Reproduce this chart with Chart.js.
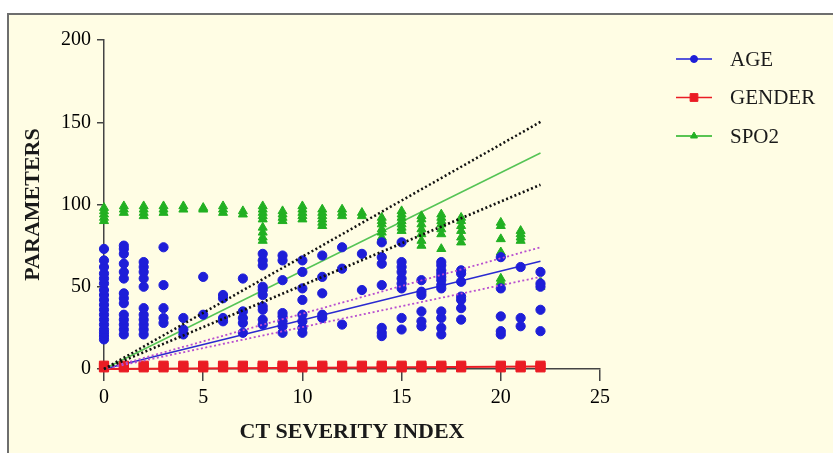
<!DOCTYPE html>
<html>
<head>
<meta charset="utf-8">
<script src="https://cdn.jsdelivr.net/npm/chart.js@4/dist/chart.umd.min.js"></script>
<style>
  html, body { margin: 0; padding: 0; background: #fff; }
  canvas { display: block; }
</style>
</head>
<body>
<canvas id="chart" width="833" height="453"></canvas>
<script>
// CT severity index, one slot per value 0..22
const ctIndex = [0,1,2,3,4,5,6,7,8,9,10,11,12,13,14,15,16,17,18,19,20,21,22];

// AGE values at each CT index
const ageAt = [
  [18,20,22,24,27,30,33,36,39,42,45,48,52,55,58,62,66,73],
  [21,24,27,30,33,40,43,46,55,59,64,70,73,75],
  [21,24,27,30,33,37,50,55,59,62,65],
  [28,31,37,51,74],
  [21,24,31],
  [33,56],
  [29,31,43,45],
  [22,28,31,35,55],
  [27,30,36,38,45,48,50,63,66,70],
  [22,26,29,32,34,54,66,69],
  [22,25,29,33,42,49,59,66],
  [31,33,46,56,69],
  [27,61,74],
  [48,70],
  [20,22,25,51,64,68,77],
  [24,31,49,52,55,59,62,65,77],
  [26,29,35,45,47,54],
  [21,25,31,35,49,51,54,56,58,60,63,65],
  [30,37,42,44,53,58,60],
  [],
  [21,23,32,49,68],
  [26,31,62],
  [23,36,50,52,59]
];

// GENDER (1 / 2) at each CT index
const genderAt = [
  [1,2],[1,2],[1,2],[1,2],[1,2],[1,2],[1,2],[1,2],[1,2],[1,2],[1,2],[1,2],
  [1,2],[1,2],[1,2],[1,2],[1,2],[1,2],[1,2],[],[1,2],[1,2],[1,2]
];

// SPO2 values at each CT index
const spo2At = [
  [90,92,94,96,98],
  [95,97,99],
  [93,95,97,99],
  [95,97,99],
  [97,99],
  [97,98],
  [95,97,99],
  [94,96],
  [78,80,83,86,91,93,95,97,99],
  [90,92,94,96],
  [91,93,95,97,99],
  [87,89,91,93,95,97],
  [93,95,97],
  [93,95],
  [78,80,83,85,88,90,92],
  [84,86,88,90,92,94,96],
  [75,78,82,85,88,91,93],
  [73,82,85,88,90,92,94],
  [77,80,84,87,90,92],
  [],
  [53,55,71,79,87,89],
  [78,80,82,84],
  [50,53]
];

// fitted lines (start / end)
const fitX = [0, 22];
const ageFit = [0, 65.5];
const ageFitLo = [0, 56];
const ageFitHi = [0, 74];
const genderFit = [0, 1.5];
const spo2Fit = [0, 131.3];
const spo2FitLo = [0, 112];
const spo2FitHi = [0, 150.2];

const xTicks = [0, 5, 10, 15, 20, 25];
const yTicks = [0, 50, 100, 150, 200];

const BLUE = '#1e1ed8';
const RED = '#ea1c24';
const GREEN = '#22b022';
const SERIF = '"Liberation Serif", "DejaVu Serif", serif';

function toPoints(groups) {
  const pts = [];
  groups.forEach((vals, i) => vals.forEach(v => pts.push({ x: ctIndex[i], y: v })));
  return pts;
}

function fitLine(ys) {
  return fitX.map((x, i) => ({ x: x, y: ys[i] }));
}

function lineSet(ys, color, width, dash) {
  return {
    data: fitLine(ys),
    showLine: true,
    borderColor: color,
    borderWidth: width,
    borderDash: dash || [],
    pointRadius: 0,
    pointHoverRadius: 0,
    fill: false,
    clip: false
  };
}

function pointSet(label, groups, color, style, radius) {
  return {
    label: label,
    data: toPoints(groups),
    showLine: false,
    pointStyle: style,
    pointRadius: radius,
    pointBackgroundColor: color,
    pointBorderColor: color,
    pointBorderWidth: 1,
    clip: false
  };
}

const legendItems = [
  { text: 'AGE', color: BLUE, style: 'circle', radius: 3.5 },
  { text: 'GENDER', color: RED, style: 'rect', radius: 5.5 },
  { text: 'SPO2', color: GREEN, style: 'triangle', radius: 4 }
];

const framePlugin = {
  id: 'frame',
  beforeDraw(chart) {
    const ctx = chart.ctx;
    ctx.save();
    ctx.fillStyle = '#ffffff';
    ctx.fillRect(0, 0, chart.width, chart.height);
    ctx.fillStyle = '#fffde4';
    ctx.fillRect(8, 14, chart.width, chart.height);
    ctx.strokeStyle = '#6e6e6e';
    ctx.lineWidth = 2;
    ctx.strokeRect(8, 14, chart.width + 10, chart.height + 10);
    ctx.restore();
  }
};

const legendPlugin = {
  id: 'sideLegend',
  afterDraw(chart) {
    const ctx = chart.ctx;
    ctx.save();
    legendItems.forEach((it, i) => {
      const y = 59 + i * 38.5;
      ctx.strokeStyle = it.color;
      ctx.lineWidth = 1.5;
      ctx.beginPath();
      ctx.moveTo(676, y);
      ctx.lineTo(712, y);
      ctx.stroke();
      ctx.fillStyle = it.color;
      ctx.strokeStyle = it.color;
      ctx.lineWidth = 1;
      Chart.helpers.drawPoint(ctx, { pointStyle: it.style, radius: it.radius, borderWidth: 1 }, 694, y);
      ctx.fillStyle = '#1a1a1a';
      ctx.font = '21px ' + SERIF;
      ctx.textBaseline = 'middle';
      ctx.textAlign = 'left';
      ctx.fillText(it.text, 730, y + 1);
    });
    ctx.restore();
  }
};

new Chart(document.getElementById('chart'), {
  type: 'scatter',
  data: {
    datasets: [
      lineSet(spo2FitHi, '#111', 2.5, [2, 2.5]),
      lineSet(spo2FitLo, '#111', 2.5, [2, 2.5]),
      lineSet(ageFitHi, '#b84fd0', 1.8, [2, 2.5]),
      lineSet(ageFitLo, '#b84fd0', 1.8, [2, 2.5]),
      pointSet('AGE', ageAt, BLUE, 'circle', 4.6),
      pointSet('SPO2', spo2At, GREEN, 'triangle', 5.2),
      pointSet('GENDER', genderAt, RED, 'rect', 6.5),
      lineSet(spo2Fit, '#55c455', 1.5),
      lineSet(ageFit, '#2a2ad0', 1.5),
      lineSet(genderFit, RED, 2)
    ]
  },
  options: {
    responsive: false,
    animation: false,
    layout: { padding: { left: 0, right: 233, top: 40, bottom: 0 } },
    plugins: {
      legend: { display: false },
      tooltip: { enabled: false }
    },
    scales: {
      x: {
        type: 'linear',
        min: 0,
        max: 25,
        afterFit(scale) { scale.height = 84; },
        afterBuildTicks(scale) { scale.ticks = xTicks.map(v => ({ value: v })); },
        grid: { display: true, drawOnChartArea: false, drawTicks: true, tickLength: 12, color: '#444', lineWidth: 1.5 },
        border: { display: true, color: '#444', width: 1.5 },
        ticks: { color: '#000', padding: 5, font: { family: SERIF, size: 20 } },
        title: { display: true, text: 'CT SEVERITY INDEX', color: '#1a1a1a', padding: { top: 0, bottom: 7 }, font: { family: SERIF, size: 22, weight: 'bold' } }
      },
      y: {
        type: 'linear',
        min: 0,
        max: 200,
        afterFit(scale) { scale.width = 104; },
        afterBuildTicks(scale) { scale.ticks = yTicks.map(v => ({ value: v })); },
        grid: { display: true, drawOnChartArea: false, drawTicks: true, tickLength: 7, color: '#444', lineWidth: 1.5 },
        border: { display: true, color: '#444', width: 1.5 },
        ticks: { color: '#000', padding: 6, font: { family: SERIF, size: 20 } },
        title: { display: true, text: 'PARAMETERS', color: '#1a1a1a', padding: { top: 20, bottom: 0 }, font: { family: SERIF, size: 22, weight: 'bold' } }
      }
    }
  },
  plugins: [framePlugin, legendPlugin]
});
</script>
</body>
</html>
